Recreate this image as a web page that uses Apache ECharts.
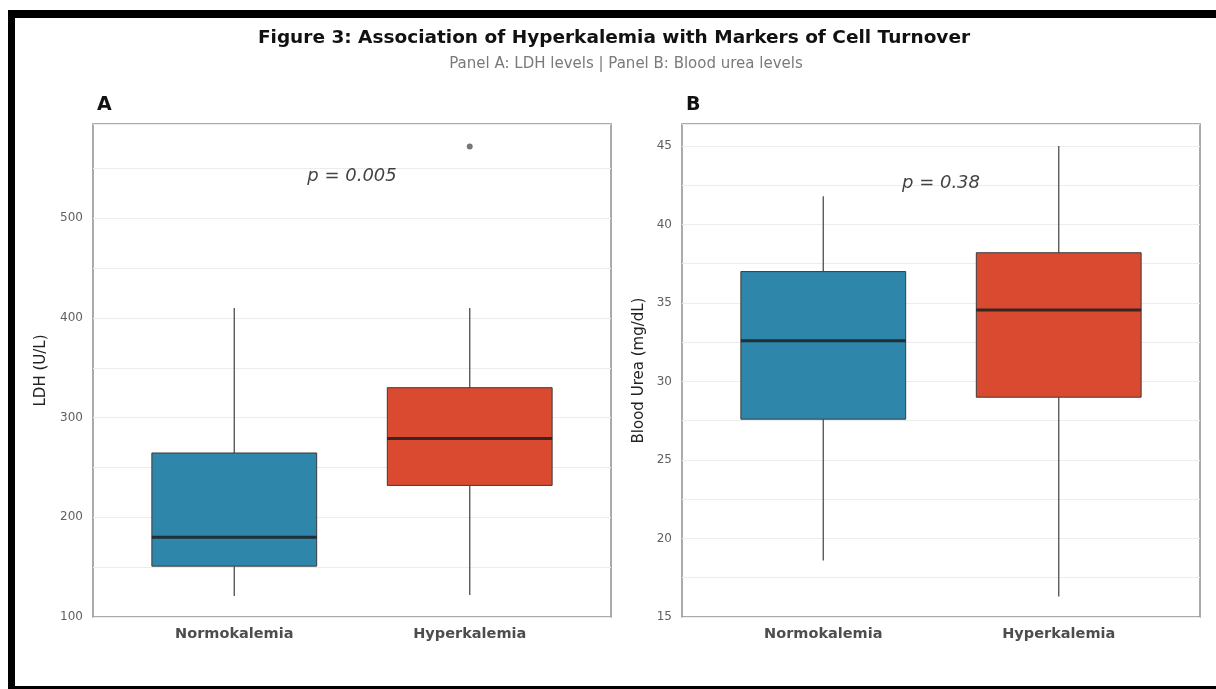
<!DOCTYPE html>
<html>
<head>
<meta charset="utf-8">
<script src="https://cdn.jsdelivr.net/npm/echarts@6/dist/echarts.min.js"></script>
<style>html,body{margin:0;padding:0;background:#fff}#c{width:1216px;height:689px}</style>
</head>
<body>
<div id="c"></div>
<script>
// ---- data ----
const categories = ['Normokalemia', 'Hyperkalemia'];
// [whiskerLow, Q1, median, Q3, whiskerHigh]
const ldhStats = [[121, 151, 180, 264.5, 410], [122, 232, 279, 330, 410]];
const ldhOutliers = [[2, 572]];
const ureaStats = [[18.6, 27.6, 32.6, 37.0, 41.8], [16.3, 29.0, 34.55, 38.2, 45.0]];
const ureaOutliers = [];
const ldhLabelStep = 100;
const ureaLabelStep = 5;
const pLabelA = { text: 'p = 0.005', pos: [1.5, 542] };
const pLabelB = { text: 'p = 0.38', pos: [1.5, 42.6] };
const titleText = 'Figure 3: Association of Hyperkalemia with Markers of Cell Turnover';
const subtitleText = 'Panel A: LDH levels | Panel B: Blood urea levels';

const FONT = "'DejaVu Sans', 'Liberation Sans', Arial, sans-serif";
const boxColors = ['#2E86AB', '#D94A30'];

function boxData(stats) {
  return stats.map((s, i) => [i + 1].concat(s));
}

function renderBox(params, api) {
  const x = api.value(0), lo = api.value(1), q1 = api.value(2), med = api.value(3), q3 = api.value(4), hi = api.value(5);
  const half = 0.35;
  const tl = api.coord([x - half, q3]);
  const br = api.coord([x + half, q1]);
  const ml = api.coord([x - half, med]);
  const mr = api.coord([x + half, med]);
  const pHi = api.coord([x, hi]), pLo = api.coord([x, lo]);
  const pQ3 = api.coord([x, q3]), pQ1 = api.coord([x, q1]);
  const c = boxColors[params.dataIndex];
  return {
    type: 'group',
    children: [
      { type: 'line', shape: { x1: pHi[0], y1: pHi[1], x2: pQ3[0], y2: pQ3[1] }, style: { stroke: '#5a5a5a', lineWidth: 1.4 } },
      { type: 'line', shape: { x1: pQ1[0], y1: pQ1[1], x2: pLo[0], y2: pLo[1] }, style: { stroke: '#5a5a5a', lineWidth: 1.4 } },
      { type: 'rect', shape: { x: tl[0], y: tl[1], width: br[0] - tl[0], height: br[1] - tl[1] }, style: { fill: c, stroke: '#3a3a3a', lineWidth: 1 } },
      { type: 'line', shape: { x1: ml[0], y1: ml[1], x2: mr[0], y2: mr[1] }, style: { stroke: '#1e1e1e', lineWidth: 3, opacity: 0.85 } }
    ]
  };
}

function xAxisCfg(gi) {
  return {
    type: 'value', gridIndex: gi, min: 0.4, max: 2.6,
    axisLine: { show: false }, splitLine: { show: false },
    axisTick: { show: false },
    axisLabel: {
      customValues: [1, 2],
      formatter: v => categories[Math.round(v) - 1] || '',
      fontFamily: FONT, fontWeight: 'bold', fontSize: 14.5, color: '#4d4d4d', margin: 10
    }
  };
}

function yAxisCfg(gi, min, max, step, labelStep, name, gap) {
  return {
    type: 'value', gridIndex: gi, min: min, max: max, interval: step,
    name: name, nameLocation: 'middle', nameGap: gap, nameRotate: 90,
    nameTextStyle: { fontFamily: FONT, fontSize: 15, color: '#222' },
    axisLine: { show: false },
    axisTick: { show: false },
    axisLabel: {
      showMaxLabel: false,
      formatter: v => (Math.abs(v / labelStep - Math.round(v / labelStep)) < 1e-6 ? String(v) : ''),
      fontFamily: FONT, fontSize: 12, color: '#606060', margin: 10
    },
    splitLine: { show: true, lineStyle: { color: '#ececec', width: 1 } }
  };
}

const chart = echarts.init(document.getElementById('c'), null, { renderer: 'canvas' });
chart.setOption({
  backgroundColor: '#ffffff',
  animation: false,
  title: [
    { text: titleText, left: 609, top: 24, textAlign: 'center',
      textStyle: { fontFamily: FONT, fontWeight: 'bold', fontSize: 18.5, color: '#111' } },
    { text: subtitleText, left: 621, top: 52, textAlign: 'center',
      textStyle: { fontFamily: FONT, fontWeight: 'normal', fontSize: 15, color: '#7a7a7a' } },
    { text: 'A', left: 92, top: 91, textStyle: { fontFamily: FONT, fontWeight: 'bold', fontSize: 19, color: '#111' } },
    { text: 'B', left: 681, top: 91, textStyle: { fontFamily: FONT, fontWeight: 'bold', fontSize: 19, color: '#111' } }
  ],
  grid: [
    { left: 93, top: 124, width: 518, height: 493, show: true, borderColor: '#8f8f8f', borderWidth: 1.5, backgroundColor: 'transparent' },
    { left: 682, top: 124, width: 518, height: 493, show: true, borderColor: '#8f8f8f', borderWidth: 1.5, backgroundColor: 'transparent' }
  ],
  xAxis: [xAxisCfg(0), xAxisCfg(1)],
  yAxis: [
    yAxisCfg(0, 100, 594.5, 50, ldhLabelStep, 'LDH (U/L)', 44),
    yAxisCfg(1, 15, 46.4, 2.5, ureaLabelStep, 'Blood Urea (mg/dL)', 35)
  ],
  series: [
    { type: 'custom', xAxisIndex: 0, yAxisIndex: 0, renderItem: renderBox, data: boxData(ldhStats), z: 3 },
    { type: 'custom', xAxisIndex: 1, yAxisIndex: 1, renderItem: renderBox, data: boxData(ureaStats), z: 3 },
    { type: 'scatter', xAxisIndex: 0, yAxisIndex: 0, data: ldhOutliers, symbolSize: 6, itemStyle: { color: '#555' }, z: 4 },
    { type: 'scatter', xAxisIndex: 1, yAxisIndex: 1, data: ureaOutliers, symbolSize: 6, itemStyle: { color: '#555' }, z: 4 },
    { type: 'scatter', xAxisIndex: 0, yAxisIndex: 0, data: [pLabelA.pos], symbolSize: 0, silent: true,
      label: { show: true, position: 'inside', formatter: pLabelA.text, fontFamily: FONT, fontStyle: 'italic', fontSize: 18, color: '#111' } },
    { type: 'scatter', xAxisIndex: 1, yAxisIndex: 1, data: [pLabelB.pos], symbolSize: 0, silent: true,
      label: { show: true, position: 'inside', formatter: pLabelB.text, fontFamily: FONT, fontStyle: 'italic', fontSize: 18, color: '#111' } }
  ],
  graphic: [
    { type: 'rect', shape: { x: 8, y: 10, width: 1208, height: 8 }, style: { fill: '#000' }, silent: true },
    { type: 'rect', shape: { x: 8, y: 10, width: 7, height: 679 }, style: { fill: '#000' }, silent: true },
    { type: 'rect', shape: { x: 8, y: 686, width: 1208, height: 3 }, style: { fill: '#000' }, silent: true }
  ]
});
</script>
</body>
</html>
